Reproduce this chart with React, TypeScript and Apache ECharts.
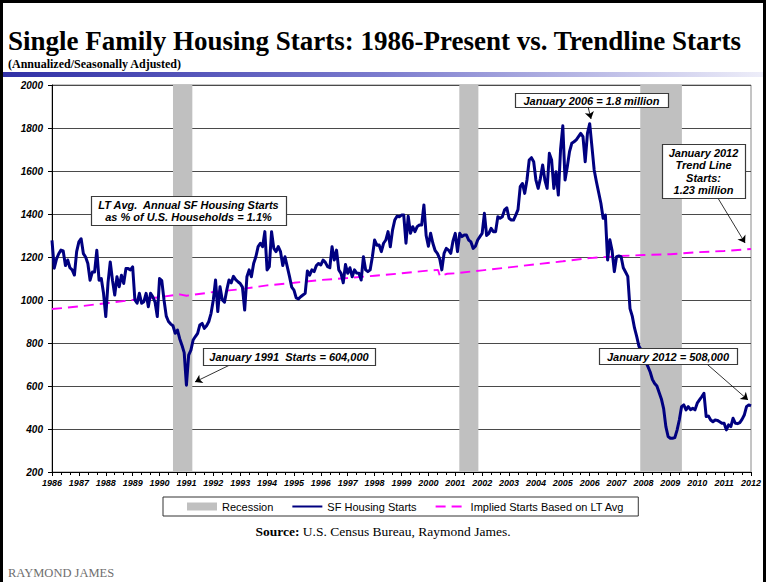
import React, { useEffect, useRef } from "react";
import * as echarts from "echarts";

// ---- Monthly single-family housing starts (thousands, SAAR), Jan 1986 .. Jan 2012 ----
const sf1986 = [1277, 1148, 1190, 1215, 1232, 1228, 1160, 1186, 1150, 1140, 1116, 1225];
const sf1987 = [1270, 1285, 1216, 1200, 1170, 1092, 1130, 1130, 1231, 1092, 1100, 1031];
const sf1988 = [923, 1080, 1177, 1092, 1023, 1108, 1062, 1115, 1077, 1146, 1146, 1140];
const sf1989 = [1154, 1000, 985, 1031, 985, 992, 1031, 969, 1031, 1015, 990, 923];
const sf1990 = [1100, 1090, 1000, 925, 900, 888, 880, 845, 860, 820, 790, 755];
const sf1991 = [604, 744, 767, 814, 830, 845, 884, 891, 868, 880, 900, 938];
const sf1992 = [1000, 1093, 946, 1062, 1000, 990, 1046, 1093, 1080, 1110, 1095, 1085];
const sf1993 = [1077, 1060, 953, 1108, 1140, 1108, 1170, 1201, 1248, 1264, 1248, 1318];
const sf1994 = [1140, 1155, 1318, 1240, 1225, 1248, 1225, 1160, 1201, 1155, 1110, 1060];
const sf1995 = [1046, 1010, 1005, 1015, 1023, 1031, 1135, 1116, 1140, 1132, 1160, 1170];
const sf1996 = [1163, 1186, 1175, 1155, 1150, 1248, 1186, 1232, 1140, 1124, 1080, 1165];
const sf1997 = [1124, 1150, 1108, 1140, 1125, 1124, 1093, 1201, 1140, 1132, 1140, 1201];
const sf1998 = [1279, 1255, 1256, 1225, 1264, 1279, 1318, 1248, 1325, 1372, 1390, 1387];
const sf1999 = [1395, 1395, 1264, 1390, 1310, 1341, 1318, 1341, 1349, 1349, 1442, 1300];
const sf2000 = [1250, 1310, 1264, 1230, 1217, 1194, 1140, 1217, 1240, 1232, 1217, 1275];
const sf2001 = [1310, 1225, 1310, 1295, 1302, 1302, 1279, 1270, 1240, 1250, 1279, 1295];
const sf2002 = [1310, 1403, 1300, 1310, 1333, 1318, 1318, 1387, 1380, 1387, 1419, 1429];
const sf2003 = [1380, 1372, 1372, 1395, 1420, 1527, 1542, 1496, 1558, 1651, 1662, 1643];
const sf2004 = [1558, 1519, 1566, 1628, 1558, 1519, 1682, 1651, 1519, 1597, 1488, 1700];
const sf2005 = [1810, 1558, 1620, 1690, 1729, 1736, 1745, 1760, 1775, 1760, 1643, 1775];
const sf2006 = [1820, 1713, 1605, 1550, 1500, 1450, 1380, 1395, 1186, 1280, 1230, 1132];
const sf2007 = [1202, 1205, 1202, 1150, 1130, 1110, 960, 925, 870, 830, 784, 768];
const sf2008 = [737, 712, 690, 665, 630, 612, 600, 570, 540, 495, 411, 365];
const sf2009 = [357, 357, 360, 395, 442, 504, 512, 489, 504, 490, 496, 489];
const sf2010 = [520, 535, 550, 566, 458, 460, 442, 434, 442, 440, 434, 427];
const sf2011 = [427, 396, 419, 411, 450, 427, 425, 430, 445, 465, 504, 512];
const sf2012 = [508];

const sfStarts = [
  ...sf1986, ...sf1987, ...sf1988, ...sf1989, ...sf1990, ...sf1991, ...sf1992,
  ...sf1993, ...sf1994, ...sf1995, ...sf1996, ...sf1997, ...sf1998, ...sf1999,
  ...sf2000, ...sf2001, ...sf2002, ...sf2003, ...sf2004, ...sf2005, ...sf2006,
  ...sf2007, ...sf2008, ...sf2009, ...sf2010, ...sf2011, ...sf2012,
];
const startYear = 1986;

// ---- Implied starts based on LT average (trend line) ----
const trendYears = [1986, 1987, 1988, 1989, 1990, 1990.75, 1991, 1992, 1993, 1994, 1995, 1996, 1997, 1998, 1999, 2000, 2000.36, 2000.43, 2000.7, 2001, 2002, 2003, 2004, 2005, 2006, 2007, 2008, 2009, 2010, 2011, 2012];
const trendValues = [958, 970, 985, 1000, 1013, 1026, 1020, 1037, 1050, 1068, 1080, 1093, 1102, 1113, 1124, 1137, 1140, 1110, 1122, 1124, 1138, 1152, 1166, 1180, 1195, 1204, 1209, 1213, 1222, 1228, 1237];

// ---- Recessions (decimal years) ----
const recessionStart = [1990.5, 2001.15, 2007.88];
const recessionEnd = [1991.22, 2001.86, 2009.43];

const seriesNames = ["Recession", "SF Housing Starts", "Implied Starts Based on LT Avg"];

const ARIAL = "'Liberation Sans', Arial, Helvetica, sans-serif";
const SERIF = "'Liberation Serif', 'Times New Roman', serif";

// annotation boxes (pixel layout)
const notes = [
  { x: 91, y: 196, w: 195, h: 29, text: "LT Avg.  Annual SF Housing Starts\nas % of U.S. Households = 1.1%" },
  { x: 515, y: 93, w: 153, h: 14, text: "January 2006 = 1.8 million" },
  { x: 662, y: 144, w: 83, h: 54, text: "January 2012\nTrend Line\nStarts:\n1.23 million" },
  { x: 203, y: 348, w: 172, h: 17, text: "January 1991  Starts = 604,000" },
  { x: 599, y: 348, w: 138, h: 16, text: "January 2012 = 508,000" },
];

// arrows in data coordinates [year, value]
const arrows = [
  { from: [1992.62, 698], to: [1991.32, 619] },
  { from: [2005.94, 1898], to: [2006.05, 1842] },
  { from: [2010.77, 1474], to: [2011.78, 1265] },
  { from: [2010.36, 702], to: [2011.89, 535] },
];

function buildOption(): any {
  const sfData = sfStarts.map((v, i) => [startYear + i / 12, v]);
  const trendData = trendYears.map((y, i) => [y, trendValues[i]]);

  const noteGraphics = notes.map((n) => ({
    type: "group",
    children: [
      {
        type: "rect",
        shape: { x: n.x + 0.5, y: n.y + 0.5, width: n.w, height: n.h },
        style: { fill: "#ffffff", stroke: "#3a3a3a", lineWidth: 1.2 },
        z: 20,
      },
      {
        type: "text",
        x: n.x + n.w / 2,
        y: n.y + n.h / 2 + 0.5,
        style: {
          text: n.text,
          fill: "#000",
          fontFamily: ARIAL,
          fontSize: 11,
          fontStyle: "italic",
          fontWeight: "bold",
          align: "center",
          verticalAlign: "middle",
          lineHeight: 12.5,
        },
        z: 21,
      },
    ],
  }));

  return {
    animation: false,
    backgroundColor: "#ffffff",
    title: {
      text: "Single Family Housing Starts: 1986-Present vs. Trendline Starts",
      subtext: "(Annualized/Seasonally Adjusted)",
      left: 8,
      top: 27,
      itemGap: 3,
      padding: 0,
      textStyle: { fontFamily: SERIF, fontWeight: "bold", fontSize: 27, color: "#000", lineHeight: 28 },
      subtextStyle: { fontFamily: SERIF, fontWeight: "bold", fontSize: 12, color: "#000", lineHeight: 12 },
    },
    legend: {
      left: 163,
      top: 497,
      orient: "horizontal",
      selectedMode: false,
      borderColor: "#333",
      borderWidth: 1,
      padding: [4, 14, 4, 24],
      itemGap: 18,
      itemWidth: 30,
      itemHeight: 8,
      textStyle: { fontFamily: ARIAL, fontSize: 11, color: "#000" },
      data: [
        { name: seriesNames[0], icon: "rect" },
        { name: seriesNames[1], itemStyle: { opacity: 0 } },
        { name: seriesNames[2], itemStyle: { opacity: 0 } },
      ],
    },
    grid: {
      left: 52,
      right: 16,
      top: 85,
      bottom: 110,
      show: true,
      borderColor: "#8a8a8a",
      borderWidth: 1,
      backgroundColor: "transparent",
    },
    xAxis: {
      type: "value",
      min: 1986,
      max: 2012,
      interval: 1,
      axisLine: { show: true, lineStyle: { color: "#000", width: 1 } },
      axisTick: { show: true, inside: false, length: 4, lineStyle: { color: "#000" } },
      minorTick: { show: true, splitNumber: 3, length: 3, lineStyle: { color: "#000" } },
      splitLine: { show: false },
      axisLabel: {
        margin: 6,
        fontFamily: ARIAL,
        fontSize: 9,
        fontStyle: "italic",
        fontWeight: "bold",
        color: "#000",
        formatter: (v: number) => String(Math.round(v)),
      },
    },
    yAxis: {
      type: "value",
      min: 200,
      max: 2000,
      interval: 200,
      axisLine: { show: true, lineStyle: { color: "#000", width: 1 } },
      axisTick: { show: true, inside: false, length: 4, lineStyle: { color: "#000" } },
      splitLine: { show: true, lineStyle: { color: "#4a4a4a", width: 1 } },
      axisLabel: {
        margin: 9,
        fontFamily: ARIAL,
        fontSize: 10,
        fontStyle: "italic",
        fontWeight: "bold",
        color: "#000",
        formatter: (v: number) => String(v),
      },
    },
    series: [
      {
        name: seriesNames[0],
        type: "line",
        data: [],
        symbol: "none",
        itemStyle: { color: "#c0c0c0" },
        lineStyle: { color: "#c0c0c0" },
      },
      {
        name: seriesNames[2],
        type: "line",
        data: trendData,
        symbol: "none",
        z: 3,
        itemStyle: { color: "#ff00ff" },
        lineStyle: { color: "#ff00ff", width: 1.9, type: [10, 6] },
      },
      {
        name: seriesNames[1],
        type: "line",
        data: sfData,
        symbol: "none",
        z: 4,
        itemStyle: { color: "#000080" },
        lineStyle: { color: "#000080", width: 3, join: "round" },
        markArea: {
          silent: true,
          z: 1,
          itemStyle: { color: "#c0c0c0", opacity: 1 },
          data: recessionStart.map((s, i) => [{ xAxis: s }, { xAxis: recessionEnd[i] }]),
        },
        markLine: {
          silent: true,
          symbol: ["none", "arrow"],
          symbolSize: 7,
          precision: 4,
          label: { show: false },
          lineStyle: { color: "#000", width: 0.8, type: "solid" },
          emphasis: { disabled: true },
          data: arrows.map((a) => [{ coord: a.from }, { coord: a.to }]),
        },
      },
    ],
    graphic: [
      {
        type: "rect",
        shape: { x: 1.5, y: 1.5, width: 763, height: 640 },
        style: { fill: "none", stroke: "#000", lineWidth: 3 },
        silent: true,
        z: 30,
      },
      {
        type: "rect",
        shape: { x: 3, y: 72, width: 761, height: 5 },
        style: {
          fill: new echarts.graphic.LinearGradient(0, 0, 1, 0, [
            { offset: 0, color: "#3030a6" },
            { offset: 0.5, color: "#7c7cce" },
            { offset: 1, color: "#eeeef9" },
          ]),
        },
        silent: true,
      },
      ...noteGraphics,
      {
        type: "text",
        x: 383,
        y: 531,
        style: {
          text: "{b|Source:} U.S. Census Bureau, Raymond James.",
          fontFamily: SERIF,
          fontSize: 13.5,
          fill: "#000",
          align: "center",
          verticalAlign: "middle",
          rich: { b: { fontFamily: SERIF, fontSize: 13.5, fontWeight: "bold", fill: "#000" } },
        },
      },
      {
        type: "text",
        x: 8,
        y: 573,
        style: {
          text: "RAYMOND JAMES",
          fontFamily: SERIF,
          fontSize: 12.5,
          fill: "#6e6e6e",
          align: "left",
          verticalAlign: "middle",
        },
      },
    ],
  };
}

export default function App() {
  const ref = useRef<HTMLDivElement>(null);
  useEffect(() => {
    document.body.style.margin = "0";
    const chart = echarts.init(ref.current!, undefined, { renderer: "svg" });
    chart.setOption(buildOption());
    return () => chart.dispose();
  }, []);
  return <div ref={ref} style={{ width: 767, height: 582 }} />;
}
